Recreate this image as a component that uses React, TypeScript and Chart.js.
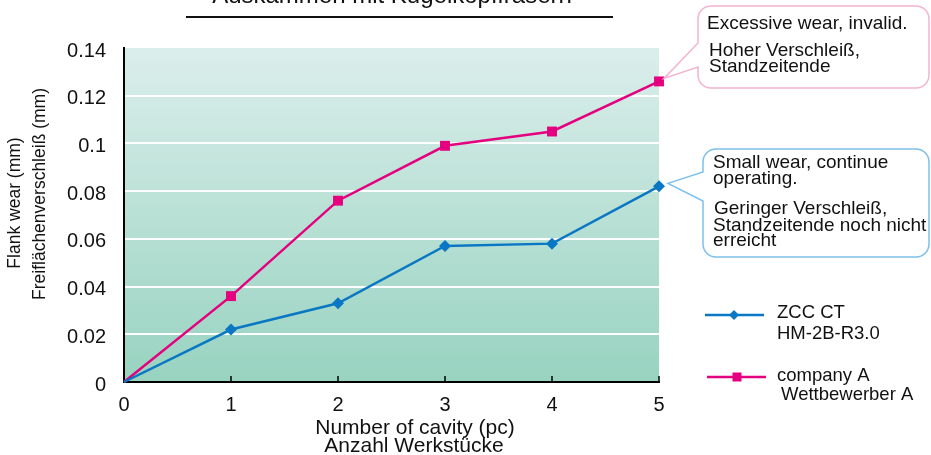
import React, { useEffect, useRef } from "react";
import { Chart, registerables } from "chart.js";

Chart.register(...registerables);

// ---- data ----
const cavities = [0, 1, 2, 3, 4, 5];
const zccWear = [0, 0.022, 0.033, 0.057, 0.058, 0.082];
const companyAWear = [0, 0.036, 0.076, 0.099, 0.105, 0.126];
const yTickValues = [0, 0.02, 0.04, 0.06, 0.08, 0.1, 0.12, 0.14];
const zccLabel = ["ZCC CT", "HM-2B-R3.0"];
const companyALabel = ["company A", "Wettbewerber A"];
const chartTitle = "Auskämmen mit Kugelkopffräsern";
const xTitle = ["Number of cavity (pc)", "Anzahl Werkstücke"];
const yTitle = ["Flank wear (mm)", "Freiflächenverschleiß (mm)"];
const companyANote = ["Excessive wear, invalid.", "Hoher Verschleiß,", "Standzeitende"];
const zccNote = ["Small wear, continue", "operating.", "Geringer Verschleiß,", "Standzeitende noch nicht", "erreicht"];

const FONT = '"Liberation Sans", Arial, Helvetica, sans-serif';
const BLUE = "#0a77c4";
const PINK = "#e4007f";

function calloutPath(
  ctx: CanvasRenderingContext2D,
  l: number, t: number, r: number, b: number, rad: number,
  py1: number, py2: number, tx: number, ty: number
) {
  ctx.beginPath();
  ctx.moveTo(l + rad, t);
  ctx.lineTo(r - rad, t);
  ctx.arcTo(r, t, r, t + rad, rad);
  ctx.lineTo(r, b - rad);
  ctx.arcTo(r, b, r - rad, b, rad);
  ctx.lineTo(l + rad, b);
  ctx.arcTo(l, b, l, b - rad, rad);
  ctx.lineTo(l, py2);
  ctx.lineTo(tx, ty);
  ctx.lineTo(l, py1);
  ctx.lineTo(l, t + rad);
  ctx.arcTo(l, t, l + rad, t, rad);
  ctx.closePath();
}

const extrasPlugin = {
  id: "extras",
  beforeDraw(chart: any) {
    const { ctx, chartArea } = chart;
    const { left, top, right, bottom } = chartArea;
    const g = ctx.createLinearGradient(0, top, 0, bottom);
    g.addColorStop(0, "#dbeeeb");
    g.addColorStop(1, "#98d3c0");
    ctx.save();
    ctx.fillStyle = g;
    ctx.fillRect(left, top, right - left, bottom - top);
    ctx.restore();
  },
  afterDraw(chart: any) {
    const { ctx, chartArea, scales } = chart;
    const xs = scales.x;
    const ys = scales.y;
    ctx.save();

    // x tick marks (inside)
    ctx.strokeStyle = "#000";
    ctx.lineWidth = 1.5;
    cavities.forEach((c) => {
      if (c === 0) return;
      const px = xs.getPixelForValue(c);
      ctx.beginPath();
      ctx.moveTo(px, chartArea.bottom);
      ctx.lineTo(px, chartArea.bottom - 6);
      ctx.stroke();
    });

    // title (clipped at top) + underline
    ctx.fillStyle = "#111";
    ctx.font = `24px ${FONT}`;
    ctx.textAlign = "center";
    ctx.textBaseline = "alphabetic";
    ctx.fillText(chartTitle, 392, 3);
    ctx.strokeStyle = "#111";
    ctx.lineWidth = 2;
    ctx.beginPath();
    ctx.moveTo(186, 17);
    ctx.lineTo(613, 17);
    ctx.stroke();

    // x axis title
    ctx.font = `21px ${FONT}`;
    ctx.textBaseline = "middle";
    ctx.fillText(xTitle[0], 415, 428);
    ctx.fillText(xTitle[1], 414, 446);

    // y axis title
    ctx.save();
    ctx.translate(15, 203);
    ctx.rotate(-Math.PI / 2);
    ctx.font = `17.5px ${FONT}`;
    ctx.fillText(yTitle[0], 0, 0);
    ctx.restore();
    ctx.save();
    ctx.translate(40, 194);
    ctx.rotate(-Math.PI / 2);
    ctx.font = `17.5px ${FONT}`;
    ctx.fillText(yTitle[1], 0, 0);
    ctx.restore();

    // callouts
    const lastIdx = cavities.length - 1;
    const px5 = xs.getPixelForValue(cavities[lastIdx]);
    const pinkY = ys.getPixelForValue(companyAWear[lastIdx]);
    const blueY = ys.getPixelForValue(zccWear[lastIdx]);

    ctx.lineWidth = 1.5;
    calloutPath(ctx, 698, 6, 929, 88, 13, 43, 67, px5 + 5, pinkY - 3);
    ctx.fillStyle = "#fff";
    ctx.fill();
    ctx.strokeStyle = "#f4b3cf";
    ctx.stroke();

    calloutPath(ctx, 703, 149, 929, 257, 13, 172, 201, px5 + 9, blueY - 3);
    ctx.fillStyle = "#fff";
    ctx.fill();
    ctx.strokeStyle = "#7dc0ea";
    ctx.stroke();

    ctx.fillStyle = "#111";
    ctx.textAlign = "left";
    ctx.textBaseline = "middle";
    ctx.font = `19px ${FONT}`;
    ctx.fillText(companyANote[0], 707, 24);
    ctx.fillText(companyANote[1], 709, 51);
    ctx.fillText(companyANote[2], 709, 67);

    ctx.fillText(zccNote[0], 713, 163);
    ctx.fillText(zccNote[1], 713, 179);
    ctx.fillText(zccNote[2], 714, 209);
    ctx.fillText(zccNote[3], 713, 226);
    ctx.fillText(zccNote[4], 713, 241);

    // legend
    const drawLegend = (
      y: number, color: string, style: "diamond" | "square",
      x1: number, x2: number, mx: number, lines: string[], tx: number[], ty: number[]
    ) => {
      ctx.strokeStyle = color;
      ctx.lineWidth = 2.5;
      ctx.beginPath();
      ctx.moveTo(x1, y);
      ctx.lineTo(x2, y);
      ctx.stroke();
      ctx.fillStyle = color;
      ctx.beginPath();
      if (style === "diamond") {
        ctx.moveTo(mx - 5, y);
        ctx.lineTo(mx, y - 5);
        ctx.lineTo(mx + 5, y);
        ctx.lineTo(mx, y + 5);
        ctx.closePath();
      } else {
        ctx.rect(mx - 4.5, y - 4.5, 9, 9);
      }
      ctx.fill();
      ctx.fillStyle = "#111";
      ctx.font = `18.5px ${FONT}`;
      lines.forEach((s, i) => ctx.fillText(s, tx[i], ty[i]));
    };
    drawLegend(315, BLUE, "diamond", 705, 764, 734, zccLabel, [777, 777], [313, 334]);
    drawLegend(377, PINK, "square", 707, 766, 737, companyALabel, [777, 781], [376, 395]);

    ctx.restore();
  },
};

export default function App() {
  const ref = useRef<HTMLCanvasElement>(null);

  useEffect(() => {
    const canvas = ref.current!;
    const chart = new Chart(canvas, {
      type: "line",
      data: {
        datasets: [
          {
            label: zccLabel.join(" "),
            data: cavities.map((c, i) => ({ x: c, y: zccWear[i] })),
            borderColor: BLUE,
            backgroundColor: BLUE,
            borderWidth: 2.5,
            pointStyle: "rectRot",
            pointRadius: cavities.map((c) => (c === 0 ? 0 : 6)),
            pointBorderWidth: 0,
            tension: 0,
            clip: false as any,
          },
          {
            label: companyALabel.join(" "),
            data: cavities.map((c, i) => ({ x: c, y: companyAWear[i] })),
            borderColor: PINK,
            backgroundColor: PINK,
            borderWidth: 2.5,
            pointStyle: "rect",
            pointRadius: cavities.map((c) => (c === 0 ? 0 : 7)),
            pointBorderWidth: 0,
            tension: 0,
            clip: false as any,
          },
        ],
      },
      options: {
        animation: false,
        responsive: false,
        devicePixelRatio: 1,
        layout: { padding: { left: 0, top: 48, right: 272, bottom: 0 } },
        plugins: {
          legend: { display: false },
          tooltip: { enabled: false },
          title: { display: false },
        },
        scales: {
          x: {
            type: "linear",
            min: 0,
            max: 5,
            afterBuildTicks: (s: any) => {
              s.ticks = cavities.map((v) => ({ value: v }));
            },
            afterFit: (s: any) => {
              s.height = 73;
            },
            grid: { display: false, drawTicks: false },
            border: { display: true, color: "#000", width: 2 },
            ticks: {
              padding: 11,
              color: "#111",
              font: { family: FONT, size: 20 },
              maxRotation: 0,
              callback: (v: any) => String(v),
            },
          },
          y: {
            type: "linear",
            min: 0,
            max: 0.14,
            afterBuildTicks: (s: any) => {
              s.ticks = yTickValues.map((v) => ({ value: v }));
            },
            afterFit: (s: any) => {
              s.width = 124;
            },
            grid: {
              drawTicks: false,
              lineWidth: 2,
              color: (c: any) =>
                c.tick && (c.tick.value === 0.14 || c.tick.value === 0) ? "rgba(0,0,0,0)" : "#ffffff",
            },
            border: { display: true, color: "#000", width: 2 },
            ticks: {
              padding: 18,
              labelOffset: 3,
              color: "#111",
              font: { family: FONT, size: 20 },
              callback: (v: any) => String(Number(Number(v).toFixed(2))),
            },
          },
        },
      },
      plugins: [extrasPlugin],
    });
    return () => chart.destroy();
  }, []);

  return (
    <div style={{ position: "absolute", left: 0, top: 0, width: 931, height: 455, background: "#fff" }}>
      <canvas ref={ref} width={931} height={455} style={{ display: "block", width: 931, height: 455 }} />
    </div>
  );
}
